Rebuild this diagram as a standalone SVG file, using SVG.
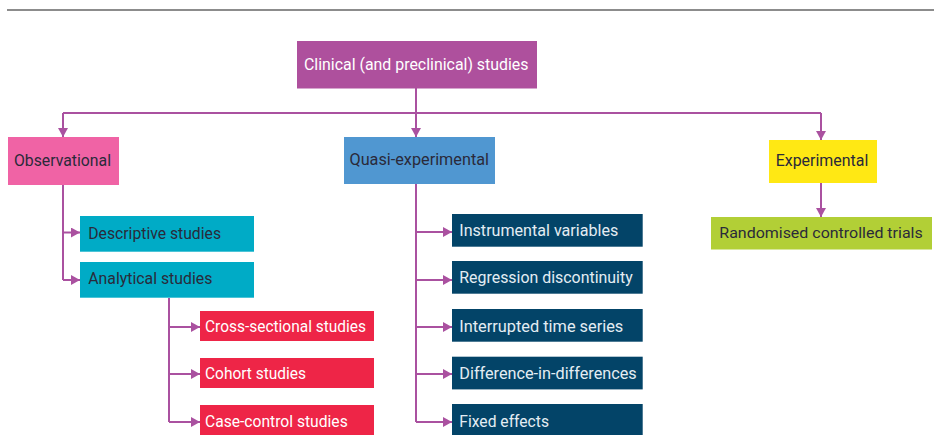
<svg xmlns="http://www.w3.org/2000/svg" width="934" height="435" viewBox="0 0 934 435">
  <defs>
    <style>
      text { font-family: Roboto, "Open Sans", "Liberation Sans", sans-serif; font-size: 17px; }
      .dark { fill: #2a2a3a; }
      .light { fill: #ffffff; }
      .pale { fill: #e4edf3; }
      .small { font-size: 15.5px; }
      .conn { fill: none; stroke: #aa51a0; stroke-width: 2; }
      .clinical { fill: #ae509d; }
      .obs { fill: #f063a5; }
      .quasi { fill: #5097d1; }
      .exp { fill: #ffe814; }
      .teal { fill: #00abc6; }
      .red { fill: #ee2547; }
      .navy { fill: #034468; }
      .green { fill: #b2cf36; }
    </style>
    <marker id="arrow" markerUnits="userSpaceOnUse" markerWidth="10" markerHeight="10" refX="9" refY="5" orient="auto">
      <path d="M0,0 L9,5 L0,10 Z" fill="#aa51a0"/>
    </marker>
  </defs>

  <!-- header rule -->
  <line x1="7" y1="10" x2="934" y2="10" stroke="#666666" stroke-width="1.4"/>

  <!-- connectors -->
  <g id="connectors">
    <path class="conn" d="M416,88 V113 M63,113 H821"/>
    <path class="conn" d="M63,113 V137" marker-end="url(#arrow)"/>
    <path class="conn" d="M416,113 V137" marker-end="url(#arrow)"/>
    <path class="conn" d="M821,113 V140" marker-end="url(#arrow)"/>

    <path class="conn" d="M63,185 V280"/>
    <path class="conn" d="M63,232.5 H80" marker-end="url(#arrow)"/>
    <path class="conn" d="M63,280 H80" marker-end="url(#arrow)"/>

    <path class="conn" d="M169,298 V422"/>
    <path class="conn" d="M169,327 H200" marker-end="url(#arrow)"/>
    <path class="conn" d="M169,374 H200" marker-end="url(#arrow)"/>
    <path class="conn" d="M169,422 H200" marker-end="url(#arrow)"/>

    <path class="conn" d="M416,184 V422"/>
    <path class="conn" d="M416,232 H452" marker-end="url(#arrow)"/>
    <path class="conn" d="M416,280 H452" marker-end="url(#arrow)"/>
    <path class="conn" d="M416,327 H452" marker-end="url(#arrow)"/>
    <path class="conn" d="M416,374 H452" marker-end="url(#arrow)"/>
    <path class="conn" d="M416,422 H452" marker-end="url(#arrow)"/>

    <path class="conn" d="M821,183 V217" marker-end="url(#arrow)"/>
  </g>

  <!-- top level -->
  <g id="clinical">
    <rect class="clinical" x="297" y="41" width="240" height="47.5"/>
    <text class="light" x="304" y="69.5" textLength="224.5" lengthAdjust="spacingAndGlyphs">Clinical (and preclinical) studies</text>
  </g>

  <!-- second level -->
  <g id="observational">
    <rect class="obs" x="8" y="137" width="111" height="48"/>
    <text class="dark" x="14" y="166" textLength="97" lengthAdjust="spacingAndGlyphs">Observational</text>
  </g>
  <g id="quasi-experimental">
    <rect class="quasi" x="344" y="137" width="151" height="47"/>
    <text class="dark" x="349.5" y="165" textLength="139.5" lengthAdjust="spacingAndGlyphs">Quasi-experimental</text>
  </g>
  <g id="experimental">
    <rect class="exp" x="769" y="140" width="108" height="43"/>
    <text class="dark" x="775.7" y="165.7" textLength="92.6" lengthAdjust="spacingAndGlyphs">Experimental</text>
  </g>

  <!-- observational branch -->
  <g id="descriptive">
    <rect class="teal" x="80" y="216" width="174" height="35.7"/>
    <text class="dark" x="88.3" y="239.3" textLength="132.7" lengthAdjust="spacingAndGlyphs">Descriptive studies</text>
  </g>
  <g id="analytical">
    <rect class="teal" x="80" y="262" width="174" height="35.7"/>
    <text class="dark" x="88.3" y="284" textLength="124" lengthAdjust="spacingAndGlyphs">Analytical studies</text>
  </g>
  <g id="cross-sectional">
    <rect class="red" x="200" y="311" width="174" height="30"/>
    <text class="light" x="205" y="331.7" textLength="161" lengthAdjust="spacingAndGlyphs">Cross-sectional studies</text>
  </g>
  <g id="cohort">
    <rect class="red" x="200" y="358" width="174" height="30"/>
    <text class="light" x="205" y="379.3" textLength="101" lengthAdjust="spacingAndGlyphs">Cohort studies</text>
  </g>
  <g id="case-control">
    <rect class="red" x="200" y="405" width="174" height="30"/>
    <text class="light" x="205" y="426.7" textLength="142.7" lengthAdjust="spacingAndGlyphs">Case-control studies</text>
  </g>

  <!-- quasi-experimental branch -->
  <g id="instrumental">
    <rect class="navy" x="452" y="214" width="190.7" height="32.7"/>
    <text class="pale" x="459.3" y="236" textLength="159" lengthAdjust="spacingAndGlyphs">Instrumental variables</text>
  </g>
  <g id="regression">
    <rect class="navy" x="452" y="261" width="190.7" height="32.7"/>
    <text class="pale" x="459.3" y="283.3" textLength="173.4" lengthAdjust="spacingAndGlyphs">Regression discontinuity</text>
  </g>
  <g id="interrupted">
    <rect class="navy" x="452" y="309" width="190.7" height="32.7"/>
    <text class="pale" x="459.3" y="331.7" textLength="164" lengthAdjust="spacingAndGlyphs">Interrupted time series</text>
  </g>
  <g id="diff-in-diff">
    <rect class="navy" x="452" y="356.7" width="190.7" height="32.7"/>
    <text class="pale" x="459.3" y="379.3" textLength="177.4" lengthAdjust="spacingAndGlyphs">Difference-in-differences</text>
  </g>
  <g id="fixed-effects">
    <rect class="navy" x="452" y="404" width="190.7" height="32"/>
    <text class="pale" x="459.3" y="427.3" textLength="89.7" lengthAdjust="spacingAndGlyphs">Fixed effects</text>
  </g>

  <!-- experimental branch -->
  <g id="rct">
    <rect class="green" x="711" y="217" width="221" height="32.5"/>
    <text class="dark small" x="719.3" y="237.7" textLength="203.4" lengthAdjust="spacingAndGlyphs">Randomised controlled trials</text>
  </g>
</svg>
